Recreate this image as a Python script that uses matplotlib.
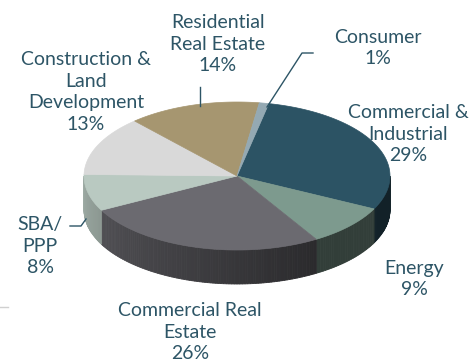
import numpy as np
import matplotlib
matplotlib.use('Agg')
from matplotlib import pyplot as plt
from matplotlib.patches import Polygon


# loan portfolio mix, clockwise from the top of the pie
LABELS = ['Commercial &\nIndustrial',
          'Energy',
          'Commercial Real\nEstate',
          'SBA/\nPPP',
          'Construction &\nLand\nDevelopment',
          'Residential\nReal Estate',
          'Consumer']
SHARES = [29, 9, 26, 8, 13, 14, 1]
TOP_COLORS = ['#2c5364', '#7d9a8e', '#6b6a70', '#b9c9c1',
              '#d9d9d9', '#a69670', '#94a9b3']

TEXT_COLOR = '#2d5566'

# pie geometry in pixel units
CX, CY = 237, 176
RX, RY = 153, 74
DEPTH = 34
START = 78


def hex_to_rgb(h):
    h = h.lstrip('#')
    return np.array([int(h[i:i + 2], 16) for i in (0, 2, 4)]) / 255.0


def side_shade(theta):
    # lighter toward the left rim, darker toward the front right
    return 0.40 + 0.46 * np.clip((-60 - theta) / 120.0, 0, 1)


def ellipse_pt(theta, dy=0):
    t = np.radians(theta)
    return CX + RX * np.cos(t), CY - RY * np.sin(t) + dy


def slice_ranges():
    ranges = []
    a = START
    for s in SHARES:
        span = s / 100 * 360
        ranges.append((a - span, a))
        a -= span
    return ranges


def draw_sides(ax, ranges):
    for (lo, hi), col in zip(ranges, TOP_COLORS):
        base = hex_to_rgb(col)
        # normalise to the visible front half (-180..0)
        for shift in (0, -360, 360):
            l, h = max(lo + shift, -180), min(hi + shift, 0)
            if h <= l:
                continue
            edges = np.linspace(l, h, max(int((h - l) / 1.0), 2) + 1)
            for t0, t1 in zip(edges[:-1], edges[1:]):
                c = np.clip(base * side_shade((t0 + t1) / 2), 0, 1)
                pts = [ellipse_pt(t0), ellipse_pt(t1),
                       ellipse_pt(t1, DEPTH), ellipse_pt(t0, DEPTH)]
                ax.add_patch(Polygon(pts, closed=True, facecolor=c,
                                     edgecolor=c, linewidth=0.6))


def draw_top(ax, ranges):
    for (lo, hi), col in zip(ranges, TOP_COLORS):
        th = np.linspace(lo, hi, 120)
        pts = [(CX, CY)] + [ellipse_pt(t) for t in th]
        ax.add_patch(Polygon(pts, closed=True, facecolor=col,
                             edgecolor=col, linewidth=0.5))


def main():
    plt.rcParams['font.family'] = ['Lato', 'DejaVu Sans']

    fig = plt.figure(figsize=(4.73, 3.64), dpi=100)
    ax = fig.add_axes([0, 0, 1, 1])
    ax.set_xlim(0, 473)
    ax.set_ylim(364, 0)
    ax.axis('off')

    ranges = slice_ranges()
    draw_sides(ax, ranges)
    draw_top(ax, ranges)

    # label blocks: (x centre, y centre)
    label_pos = [(408, 134), (414, 279), (190, 332), (40, 246),
                 (86, 92), (218, 44), (378, 48)]
    for lab, share, (x, y) in zip(LABELS, SHARES, label_pos):
        ax.text(x, y, f'{lab}\n{share}%', ha='center', va='center',
                fontsize=14, color=TEXT_COLOR, linespacing=1.32)

    # leader lines
    ax.plot([200, 200], [87, 106], color=TEXT_COLOR, lw=1)
    ax.plot([313, 302, 267], [53, 53, 107], color=TEXT_COLOR, lw=1)
    ax.plot([70, 81, 86], [226, 226, 219], color=TEXT_COLOR, lw=1)

    # stray gridline fragment at the lower left
    ax.plot([0, 8], [307, 307], color='#d0d0d0', lw=1)

    fig.savefig('out.png', dpi=100)
    plt.close(fig)


if __name__ == '__main__':
    main()
